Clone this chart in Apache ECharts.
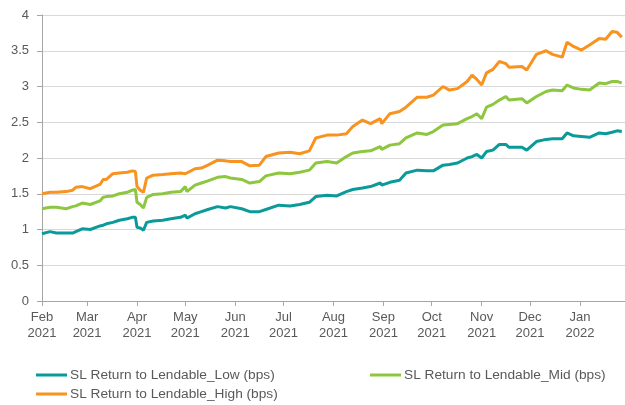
<!DOCTYPE html>
<html>
<head>
<meta charset="utf-8">
<script src="https://cdn.jsdelivr.net/npm/echarts@6/dist/echarts.min.js"></script>
<style>html,body{margin:0;padding:0;background:#fff}#c{width:625px;height:405px}</style>
</head>
<body>
<div id="c"></div>
<script>
const dates = ['2021-02-01','2021-02-06','2021-02-10','2021-02-16','2021-02-20','2021-02-22','2021-02-26','2021-03-03','2021-03-09','2021-03-11','2021-03-13','2021-03-17','2021-03-21','2021-03-26','2021-03-29','2021-03-31','2021-04-01','2021-04-03','2021-04-05','2021-04-07','2021-04-11','2021-04-17','2021-04-22','2021-04-28','2021-05-01','2021-05-02','2021-05-07','2021-05-11','2021-05-15','2021-05-21','2021-05-26','2021-05-29','2021-06-05','2021-06-10','2021-06-16','2021-06-20','2021-06-28','2021-07-05','2021-07-11','2021-07-17','2021-07-21','2021-07-28','2021-08-03','2021-08-09','2021-08-13','2021-08-19','2021-08-24','2021-08-30','2021-08-31','2021-09-05','2021-09-11','2021-09-15','2021-09-22','2021-09-28','2021-10-02','2021-10-08','2021-10-12','2021-10-17','2021-10-23','2021-10-26','2021-10-29','2021-11-01','2021-11-04','2021-11-08','2021-11-12','2021-11-16','2021-11-18','2021-11-26','2021-11-29','2021-12-05','2021-12-11','2021-12-15','2021-12-21','2021-12-24','2021-12-28','2022-01-02','2022-01-07','2022-01-13','2022-01-17','2022-01-21','2022-01-24','2022-01-27'];
const lowVals = [0.94,0.97,0.95,0.95,0.95,0.97,1.01,1.00,1.05,1.06,1.08,1.10,1.13,1.15,1.17,1.17,1.03,1.02,0.99,1.10,1.12,1.13,1.15,1.17,1.20,1.16,1.22,1.25,1.28,1.32,1.30,1.32,1.29,1.25,1.25,1.28,1.34,1.33,1.35,1.38,1.46,1.48,1.47,1.53,1.56,1.58,1.60,1.65,1.62,1.66,1.69,1.79,1.83,1.82,1.82,1.90,1.91,1.93,2.00,2.02,2.05,2.00,2.09,2.11,2.19,2.19,2.15,2.15,2.11,2.23,2.26,2.27,2.27,2.35,2.31,2.30,2.29,2.35,2.34,2.36,2.38,2.37];
const midVals = [1.29,1.31,1.31,1.29,1.32,1.33,1.37,1.35,1.40,1.45,1.46,1.47,1.50,1.52,1.55,1.56,1.38,1.35,1.30,1.45,1.49,1.50,1.52,1.53,1.60,1.53,1.62,1.65,1.68,1.73,1.74,1.72,1.70,1.65,1.67,1.75,1.79,1.78,1.80,1.83,1.93,1.95,1.93,2.02,2.07,2.09,2.10,2.16,2.12,2.18,2.20,2.28,2.35,2.33,2.37,2.46,2.47,2.48,2.55,2.58,2.62,2.55,2.71,2.75,2.81,2.86,2.81,2.83,2.77,2.86,2.93,2.95,2.94,3.02,2.98,2.96,2.95,3.05,3.04,3.07,3.07,3.05];
const highVals = [1.50,1.52,1.52,1.53,1.55,1.59,1.60,1.57,1.63,1.70,1.70,1.78,1.79,1.80,1.82,1.81,1.60,1.55,1.52,1.72,1.76,1.77,1.78,1.79,1.78,1.76,1.85,1.86,1.90,1.97,1.96,1.95,1.95,1.89,1.90,2.02,2.07,2.08,2.06,2.10,2.28,2.32,2.32,2.34,2.44,2.53,2.48,2.55,2.48,2.62,2.65,2.71,2.85,2.85,2.88,3.00,2.95,2.97,3.07,3.16,3.10,3.02,3.19,3.24,3.35,3.32,3.27,3.28,3.23,3.45,3.50,3.45,3.41,3.62,3.56,3.51,3.58,3.67,3.66,3.77,3.76,3.69];
const monthTicks = ['2021-02-01','2021-03-01','2021-04-01','2021-05-01','2021-06-01','2021-07-01','2021-08-01','2021-09-01','2021-10-01','2021-11-01','2021-12-01','2022-01-01'];
const monthNames = ['Jan','Feb','Mar','Apr','May','Jun','Jul','Aug','Sep','Oct','Nov','Dec'];
const seriesNames = ['SL Return to Lendable_Low (bps)','SL Return to Lendable_Mid (bps)','SL Return to Lendable_High (bps)'];
const colors = ['#0b9a9a','#8dc63f','#f7931e'];

const ts = s => { const p = s.split('-').map(Number); return Date.UTC(p[0], p[1]-1, p[2]); };
const mk = vals => dates.map((d,i) => [ts(d), vals[i]]);
const font = "'Liberation Sans', Arial, sans-serif";
const txt = '#595959';

const chart = echarts.init(document.getElementById('c'), null, {renderer:'canvas'});
chart.setOption({
  animation: false,
  color: colors,
  grid: {left: 42, right: 0, top: 15, bottom: 104, containLabel: false},
  xAxis: {
    type: 'value',
    min: ts('2021-02-01'), max: ts('2022-01-29'),
    axisLine: {show: true, lineStyle: {color: '#a6a6a6', width: 1}},
    axisTick: {show: true, length: 5, lineStyle: {color: '#a6a6a6'}, customValues: monthTicks.map(ts)},
    axisLabel: {
      customValues: monthTicks.map(ts),
      color: txt, fontFamily: font, fontSize: 13, lineHeight: 16, margin: 8,
      formatter: v => { const d = new Date(v); return monthNames[d.getUTCMonth()] + '\n' + d.getUTCFullYear(); }
    },
    splitLine: {show: false}
  },
  yAxis: {
    type: 'value', min: 0, max: 4, interval: 0.5,
    axisLine: {show: true, lineStyle: {color: '#a6a6a6', width: 1}},
    axisTick: {show: true, length: 5, lineStyle: {color: '#a6a6a6'}},
    axisLabel: {color: txt, fontFamily: font, fontSize: 13, margin: 13},
    splitLine: {show: true, lineStyle: {color: '#d9d9d9', width: 1}}
  },
  legend: [
    {data: [seriesNames[0]], left: 36, top: 368},
    {data: [seriesNames[1]], left: 370, top: 368},
    {data: [seriesNames[2]], left: 36, top: 387}
  ].map(l => Object.assign(l, {icon: 'rect', itemWidth: 31, itemHeight: 3, itemGap: 0, padding: 0,
      textStyle: {color: txt, fontFamily: font, fontSize: 13.7, padding: [0,0,0,-2]}})),
  series: [lowVals, midVals, highVals].map((v,i) => ({
    name: seriesNames[i], type: 'line', data: mk(v), showSymbol: false, symbol: 'none',
    lineStyle: {width: 3, color: colors[i]}, itemStyle: {color: colors[i]}
  }))
});
</script>
</body>
</html>
